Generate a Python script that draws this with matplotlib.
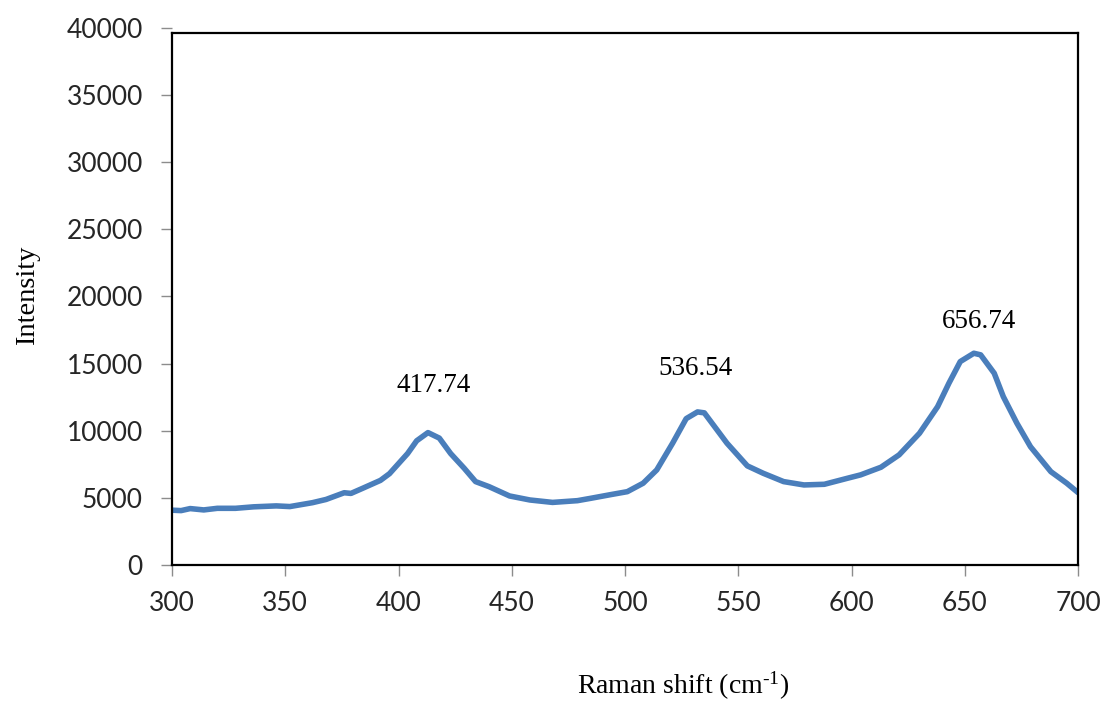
import matplotlib
matplotlib.use("Agg")
import matplotlib.pyplot as plt

# Raman spectrum, read point by point
shift = [300, 304, 308, 314, 320, 328, 336, 346, 352, 362,
         368, 376, 379, 384, 392, 396, 400, 404, 408, 413,
         418, 423, 429, 434, 440, 449, 458, 468, 479, 485,
         494, 501, 508, 514, 521, 527, 532, 535, 540, 545,
         554, 561, 570, 579, 588, 598, 604, 613, 621, 630,
         638, 643, 648, 654, 657, 663, 667, 673, 679, 688,
         695, 700]
intensity = [4080, 4050, 4200, 4100, 4220, 4220, 4330, 4400, 4350, 4640,
             4880, 5380, 5330, 5700, 6300, 6800, 7550, 8300, 9250, 9860,
             9450, 8300, 7200, 6210, 5830, 5140, 4840, 4660, 4790, 4970,
             5250, 5460, 6090, 7080, 9070, 10900, 11400, 11330, 10200, 9070,
             7380, 6830, 6210, 5960, 6010, 6450, 6710, 7280, 8200, 9810,
             11790, 13540, 15150, 15770, 15650, 14280, 12540, 10560, 8810, 6950,
             6090, 5390]

peak_labels = ["417.74", "536.54", "656.74"]
peak_label_x = [415.4, 530.9, 656.1]
peak_label_y = [13400, 14600, 18100]

plt.rcParams["mathtext.default"] = "regular"
plt.rcParams["mathtext.fontset"] = "custom"
plt.rcParams["mathtext.rm"] = "Liberation Serif"

fig = plt.figure(figsize=(11.05, 7.02), dpi=100)
ax = fig.add_axes([0.1557, 0.1952, 0.8199, 0.765])

ax.plot(shift, intensity, color="#4a7ebb", lw=4,
        solid_joinstyle="round", solid_capstyle="round")

for lbl, lx, ly in zip(peak_labels, peak_label_x, peak_label_y):
    ax.text(lx, ly, lbl, ha="center", va="center",
            fontfamily="Liberation Serif", fontsize=19.5, color="black")

ax.set_xlim(300, 700)
ax.set_ylim(0, 40000)
ax.set_xticks(range(300, 701, 50))
ax.set_yticks(range(0, 40001, 5000))

# plot-area border sits a little below the 40000 tick
frame_top = 39630
ax.spines["top"].set_position(("data", frame_top))
for side in ["left", "right"]:
    ax.spines[side].set_bounds(0, frame_top)
for sp in ax.spines.values():
    sp.set_color("black")
    sp.set_linewidth(1.6)

ax.tick_params(axis="both", direction="out", length=8, width=1,
               color="#8c8c8c", labelcolor="#262626", labelsize=19)
ax.tick_params(axis="x", pad=11)
ax.tick_params(axis="y", pad=13)
for t in ax.get_xticklabels() + ax.get_yticklabels():
    t.set_fontfamily("Lato")

ax.set_xlabel(r"Raman shift (cm$^{\text{-1}}$)", fontfamily="Liberation Serif",
              fontsize=20)
ax.set_ylabel("Intensity", fontfamily="Liberation Serif", fontsize=20.5)
ax.xaxis.set_label_coords(0.564, -0.196)
ax.yaxis.set_label_coords(-0.146, 0.503)

fig.savefig("out.png", dpi=100)
